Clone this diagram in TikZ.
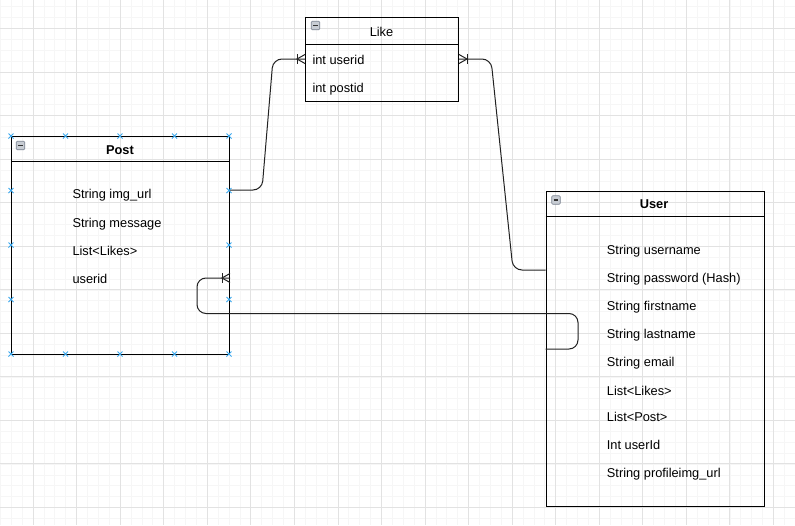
\documentclass[tikz,border=0pt]{standalone}
\usepackage{fontspec}
\setmainfont{Liberation Sans}
\usetikzlibrary{calc}
\definecolor{gridminor}{HTML}{F6F6F6}
\definecolor{gridmajor}{HTML}{E2E2E2}
\definecolor{linecol}{HTML}{000000}
\definecolor{conncol}{HTML}{222222}
\definecolor{markblue}{HTML}{3AA8EE}
\definecolor{iconfill}{HTML}{C8CDD4}
\definecolor{iconline}{HTML}{7A8290}
\begin{document}
\begin{tikzpicture}[x=1pt,y=-1pt,
  entity/.style={draw=linecol, line width=1pt, anchor=north west, inner sep=0pt},
  sepline/.style={draw=linecol, line width=1pt},
  field/.style={anchor=base west, inner sep=0pt, font=\fontsize{12.8}{15}\selectfont},
  titlebold/.style={anchor=base, inner sep=0pt, font=\fontsize{12.8}{15}\selectfont\bfseries},
  titleplain/.style={anchor=base, inner sep=0pt, font=\fontsize{12.8}{15}\selectfont},
  conn/.style={draw=conncol, line width=1pt, rounded corners=9pt},
  crow/.style={draw=conncol, line width=1pt},
  minbox/.style={draw=iconline, fill=iconfill, rounded corners=1pt, minimum size=8.5pt, inner sep=0pt, line width=0.6pt,
    path picture={\draw[line width=1.4pt, draw=white!20!black] ($(path picture bounding box.west)+(1.8,0)$) -- ($(path picture bounding box.east)+(-1.8,0)$);}},
  bluex/.style={draw=markblue, line width=0.9pt}
]
\useasboundingbox (0,0) rectangle (795,525);
\fill[white] (0,0) rectangle (795,525);
% grid
\foreach \i in {0,...,73} \draw[gridminor, line width=0.6pt] ({0.34+\i*10.8875},0) -- ++(0,525);
\foreach \i in {0,...,48} \draw[gridminor, line width=0.6pt] (0,{6.73+\i*10.8875}) -- ++(795,0);
\foreach \i in {0,...,18} \draw[gridmajor, line width=0.7pt] ({33+\i*43.55},0) -- ++(0,525);
\foreach \i in {0,...,12} \draw[gridmajor, line width=0.7pt] (0,{28.5+\i*43.5}) -- ++(795,0);

% entities
\node[entity, minimum width=218pt, minimum height=218pt] (post) at (11,136) {};
\node[entity, minimum width=153pt, minimum height=84.5pt] (like) at (305,16.5) {};
\node[entity, minimum width=218pt, minimum height=315.5pt] (user) at (545.5,190.5) {};

\draw[sepline] ($(post.north west)+(0,25)$) -- ($(post.north east)+(0,25)$);
\draw[sepline] ($(like.north west)+(0,27.5)$) -- ($(like.north east)+(0,27.5)$);
\draw[sepline] ($(user.north west)+(0,25.5)$) -- ($(user.north east)+(0,25.5)$);

% icons
\node[minbox] (posticon) at (20.5,145.5) {};
\node[minbox] (likeicon) at (315.5,25.5) {};
\node[minbox] (usericon) at (556,200) {};

% titles
\node[titlebold] (posttitle) at (120,154) {Post};
\node[titleplain] (liketitle) at (381.5,36) {Like};
\node[titlebold] (usertitle) at (654,208.3) {User};

% Post fields
\node[field] (p1) at (72.3,198.5) {String img\_url};
\node[field] (p2) at (72.3,227) {String message};
\node[field] (p3) at (72.3,255.5) {List\textless Likes\textgreater};
\node[field] (p4) at (72.3,283.5) {userid};

% Like fields
\node[field] (l1) at (312.3,64) {int userid};
\node[field] (l2) at (312.3,92) {int postid};

% User fields
\node[field] (u1) at (606.7,254) {String username};
\node[field] (u2) at (606.7,282) {String password (Hash)};
\node[field] (u3) at (606.7,310) {String firstname};
\node[field] (u4) at (606.7,338.7) {String lastname};
\node[field] (u5) at (606.7,366.7) {String email};
\node[field] (u6) at (606.7,395.2) {List\textless Likes\textgreater};
\node[field] (u7) at (606.7,421) {List\textless Post\textgreater};
\node[field] (u8) at (606.7,449.3) {Int userId};
\node[field] (u9) at (606.7,477.7) {String profileimg\_url};

% connector end points
\coordinate (pA) at ($(post.north east)+(0,54)$);
\coordinate (lA) at ($(like.north west)+(0,42.5)$);
\coordinate (lB) at ($(like.north east)+(0,42.5)$);
\coordinate (uA) at ($(user.north west)+(0,79.5)$);
\coordinate (uB) at ($(user.north west)+(0,158.5)$);
\coordinate (pB) at ($(post.north east)+(0,142)$);

% connectors
\draw[conn] (pA) -- (262,190) -- (273,59) -- (lA);
\draw[conn] (lB) -- (491,59) -- (513,270) -- (uA);
\draw[conn] (uB) -- (578,349) -- (578,313.5) -- (197,313.5) -- (197,278) -- (pB);

% crow's feet (one-or-many)
\draw[crow] ($(lA)+(-8,-5)$) -- ($(lA)+(-8,5)$);
\draw[crow] ($(lA)+(0,-4.5)$) -- ($(lA)+(-8,0)$) -- ($(lA)+(0,4.5)$);
\draw[crow] ($(lB)+(8,-5)$) -- ($(lB)+(8,5)$);
\draw[crow] ($(lB)+(0,-4.5)$) -- ($(lB)+(8,0)$) -- ($(lB)+(0,4.5)$);
\draw[crow] ($(pB)+(-8,-5)$) -- ($(pB)+(-8,5)$);
\draw[crow] ($(pB)+(0,-4.5)$) -- ($(pB)+(-8,0)$) -- ($(pB)+(0,4.5)$);

% selection markers on Post
\foreach \x in {11,65.5,120,174.5,229} {
  \draw[bluex] (\x-2.5,133.5) -- (\x+2.5,138.5) (\x-2.5,138.5) -- (\x+2.5,133.5);
  \draw[bluex] (\x-2.5,351.5) -- (\x+2.5,356.5) (\x-2.5,356.5) -- (\x+2.5,351.5);
}
\foreach \y in {190.5,245,299.5} {
  \draw[bluex] (8.5,\y-2.5) -- (13.5,\y+2.5) (8.5,\y+2.5) -- (13.5,\y-2.5);
  \draw[bluex] (226.5,\y-2.5) -- (231.5,\y+2.5) (226.5,\y+2.5) -- (231.5,\y-2.5);
}
\end{tikzpicture}
\end{document}
